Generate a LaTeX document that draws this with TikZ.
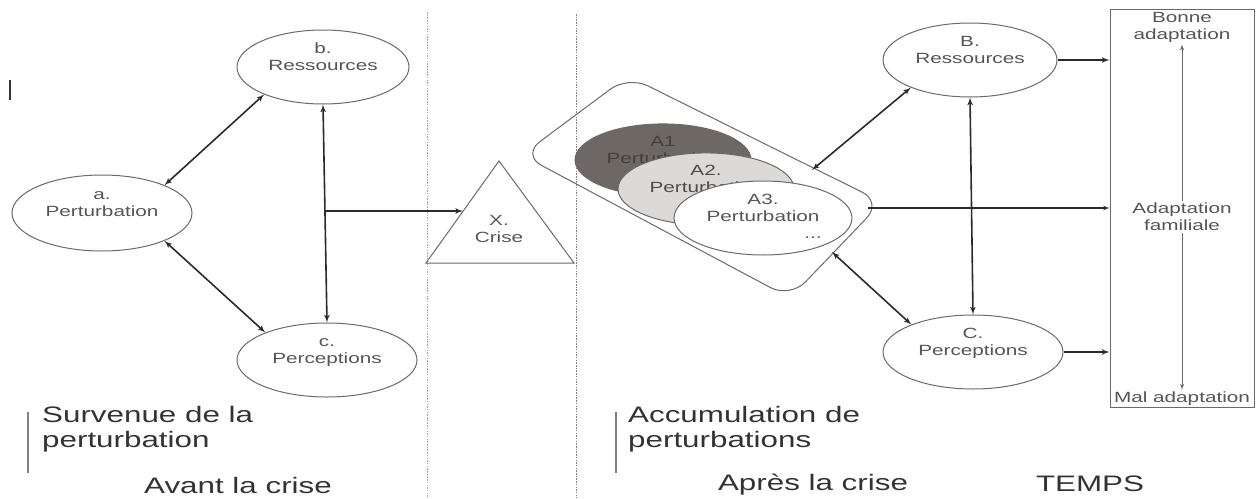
\documentclass[tikz,border=0pt]{standalone}
\usepackage{fontspec}
\setmainfont{Liberation Sans}[FakeStretch=1.4]
\usetikzlibrary{shapes.geometric,arrows}
\definecolor{pertdark}{HTML}{6E6864}
\definecolor{pertlight}{HTML}{DCDAD8}
\definecolor{txtgray}{HTML}{555555}
\definecolor{linegray}{HTML}{2B2B2B}
\definecolor{bordergray}{HTML}{6A6A6A}
\definecolor{bottomtxt}{HTML}{333333}
\newcommand{\nodefont}{\fontsize{14.8}{17}\selectfont}
\newcommand{\bigfont}{\fontsize{22.4}{25}\selectfont}

\begin{document}
\begin{tikzpicture}[x=1pt,y=-1pt,
  ell/.style={ellipse,draw=bordergray,line width=1pt,fill=white,inner sep=0pt,
    align=center,font=\nodefont,text=txtgray,minimum width=#1,minimum height=74pt},
  ell/.default=176pt,
  link/.style={latex'-latex',draw=linegray,line width=1.6pt},
  onelink/.style={-latex',draw=linegray,line width=1.6pt},
  boxtxt/.style={align=center,font=\nodefont,text=txtgray,inner sep=2pt},
  bigtxt/.style={font=\bigfont,text=bottomtxt,inner sep=0pt},
  sep/.style={draw=gray,line width=0.9pt,dash pattern=on 1.5pt off 1.2pt}]
\useasboundingbox (0,0) rectangle (1257,498);

\draw[sep,draw=gray!70] (427,12) -- (427,498);
\draw[sep] (576,14) -- (576,498);
\draw[line width=1.8pt,black!80] (10,80) -- (10,100);

% avant la crise
\node[ell=172pt] (b) at (323,67) {\strut b.\\\strut Ressources\\\strut};
\node[ell=180pt,minimum height=76pt] (a) at (102,213) {\strut a.\\\strut Perturbation\\\strut};
\node[ell=180pt] (c) at (327,360) {\strut c.\\\strut Perceptions\\\strut};
\draw[link] (a.24) -- (b.205);
\draw[link] (a.-24) -- (c.156);
\draw[link] (b.south) -- (c.north);
\coordinate (br) at (325,211);
\coordinate (triL) at (463,211);
\draw[onelink] (br) -- (triL);

\draw[draw=bordergray,line width=1pt] (499,161) -- (574,263) -- (426,263) -- cycle;
\node[boxtxt] (crise) at (499,229) {X.\\Crise};

% apres la crise
\draw[draw=bordergray,line width=1pt,rounded corners=22pt]
  (628,76) -- (882,202) -- (790,298) -- (522,155) -- cycle;
\node[ell=176pt,minimum height=72pt,fill=pertdark,text=black!75] (A1) at (663,160) {\strut A1\\\strut Perturbation\\\strut};
\node[ell=176pt,minimum height=68pt,fill=pertlight,text=black!70] (A2) at (706,189) {\strut A2.\\\strut Perturbation\\\strut};
\node[ell=178pt] (A3) at (763,218) {\strut A3.\\\strut Perturbation\\\strut\hspace*{100pt}...};
\coordinate (grpNE) at (812,170);
\coordinate (grpE) at (868,208);
\coordinate (grpSE) at (832,252);

\node[ell=174pt] (B) at (970,60) {\strut B.\\\strut Ressources\\\strut};
\node[ell=180pt] (C) at (973,352) {\strut C.\\\strut Perceptions\\\strut};
\draw[link] (grpNE) -- (B.205);
\draw[link] (grpSE) -- (C.156);
\draw[link] (B.south) -- (C.north);

\node[draw=bordergray,line width=1pt,minimum width=144pt,minimum height=398pt,inner sep=0pt] (adbox) at (1182,208) {};
\node[boxtxt] (bonne) at (1182,27) {Bonne\\adaptation};
\node[boxtxt] (adapt) at (1182,217) {Adaptation\\familiale};
\node[boxtxt] (mal) at (1182,399) {Mal adaptation};
\draw[latex'-,draw=bordergray,line width=1pt] (bonne) -- (adapt);
\draw[-latex',draw=bordergray,line width=1pt] (adapt) -- (mal);

\draw[onelink] (B.east) -- (B.east -| adbox.west);
\draw[onelink,line width=1.1pt] (grpE) -- (grpE -| adbox.west);
\draw[onelink] (C.east) -- (C.east -| adbox.west);

% legendes
\draw[gray,line width=1.4pt] (28,412) -- (28,473);
\draw[gray,line width=1.4pt] (616,412) -- (616,473);
\node[bigtxt,anchor=west,align=left] (survenue) at (42,429.5) {Survenue de la\\perturbation};
\node[bigtxt] (avant) at (238,485) {Avant la crise};
\node[bigtxt,anchor=west,align=left] (accum) at (628,429.5) {Accumulation de\\perturbations};
\node[bigtxt] (apres) at (813,485) {Après la crise};
\node[bigtxt] (temps) at (1090,484) {TEMPS};
\end{tikzpicture}
\end{document}
